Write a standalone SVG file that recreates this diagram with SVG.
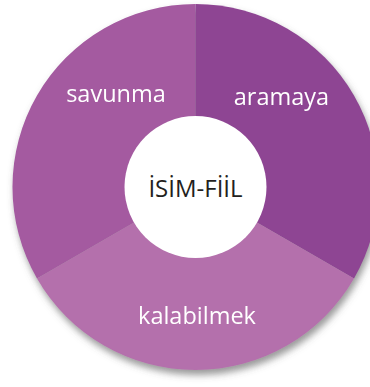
<svg xmlns="http://www.w3.org/2000/svg" width="370" height="387" viewBox="0 0 370 387">
<defs>
<filter id="sh" x="-10%" y="-10%" width="125%" height="125%">
<feDropShadow dx="2" dy="5" stdDeviation="3.5" flood-color="#555" flood-opacity="0.6"/>
</filter>
<style>
.lbl{font-family:"Open Sans","Noto Sans",sans-serif;font-size:23.5px;fill:#fff;text-anchor:middle}
.ctr{font-family:"Open Sans","Noto Sans",sans-serif;font-size:24px;fill:#231f20;text-anchor:middle}
</style>
</defs>
<rect width="370" height="387" fill="#fff"/>
<g id="ring" filter="url(#sh)">
<g id="seg-savunma">
<path d="M195.5 187 L195.5 4 A183 183 0 0 0 37 278.5 Z" fill="#a45aa0"/>
<text class="lbl" x="116" y="102">savunma</text>
</g>
<g id="seg-aramaya">
<path d="M195.5 187 L195.5 4 A183 183 0 0 1 354 278.5 Z" fill="#8e4593"/>
<text class="lbl" x="281.5" y="105">aramaya</text>
</g>
<g id="seg-kalabilmek">
<path d="M195.5 187 L354 278.5 A183 183 0 0 1 37 278.5 Z" fill="#b470ac"/>
<text class="lbl" x="197" y="324">kalabilmek</text>
</g>
</g>
<g id="center">
<circle cx="195.5" cy="187" r="71" fill="#fff"/>
<text class="ctr" x="195.5" y="197">İSİM-FİİL</text>
</g>
</svg>
